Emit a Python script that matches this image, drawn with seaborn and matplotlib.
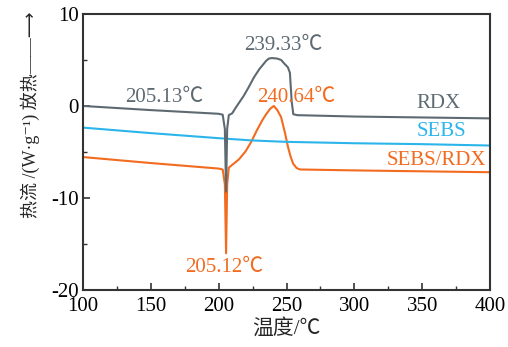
import numpy as np
import pandas as pd
import matplotlib
matplotlib.use("Agg")
import matplotlib.pyplot as plt
import seaborn as sns

# ---- data ----
rdx_t = [100, 150, 200, 203, 204.6, 205.5, 206.3, 207.5, 210, 213, 218.5, 222, 226, 230,
         235, 237, 239.33, 243, 246, 249, 251, 252.5, 253.8, 255, 258, 300, 350, 400]
rdx_y = [0.0, -0.45, -0.85, -0.95, -2.5, -9.3, -2.5, -1.0, -0.8, -0.1, 1.1, 2.0, 3.1, 4.0,
         4.9, 5.15, 5.2, 5.15, 5.0, 4.5, 4.2, 3.6, 0.5, -0.9, -1.0, -1.15, -1.25, -1.35]

sebs_t = [100, 150, 200, 225, 250, 300, 350, 400]
sebs_y = [-2.35, -2.95, -3.5, -3.75, -3.9, -4.05, -4.15, -4.3]

mix_t = [100, 150, 200, 203, 204.6, 205.5, 206.3, 207.5, 210, 215, 220, 224, 228, 232, 235,
         238, 240.64, 243, 246, 249, 251, 253, 255, 257.5, 260, 300, 350, 400]
mix_y = [-5.55, -6.2, -6.8, -6.9, -8.5, -16.0, -8.5, -6.7, -6.4, -5.8, -4.9, -3.9, -2.7, -1.6,
         -0.9, -0.3, 0.0, -0.4, -1.2, -3.0, -4.4, -5.5, -6.3, -6.75, -6.9, -7.0, -7.1, -7.2]

series = ["SEBS/RDX", "SEBS", "RDX"]
colors = {"RDX": "#5e6a72", "SEBS": "#2cb5ea", "SEBS/RDX": "#f26b1f"}

x_ticks = [100, 150, 200, 250, 300, 350, 400]
y_ticks = [-20, -10, 0, 10]

annotations = [
    ("205.13℃", 160, 0.9, "RDX"),
    ("239.33℃", 248, 6.6, "RDX"),
    ("240.64℃", 257, 0.9, "SEBS/RDX"),
    ("205.12℃", 204, -17.6, "SEBS/RDX"),
    ("RDX", 362, 0.3, "RDX"),
    ("SEBS", 364, -2.8, "SEBS"),
    ("SEBS/RDX", 360, -5.9, "SEBS/RDX"),
]

df = pd.concat([
    pd.DataFrame({"T": mix_t, "Q": mix_y, "s": "SEBS/RDX"}),
    pd.DataFrame({"T": sebs_t, "Q": sebs_y, "s": "SEBS"}),
    pd.DataFrame({"T": rdx_t, "Q": rdx_y, "s": "RDX"}),
], ignore_index=True)

sns.set_style("ticks")
plt.rcParams["font.family"] = ["Liberation Serif", "Noto Sans CJK SC", "DejaVu Sans"]
plt.rcParams["axes.unicode_minus"] = False

fig = plt.figure(figsize=(5.08, 3.47), dpi=100)
ax = fig.add_axes([0.163, 0.164, 0.802, 0.796])

sns.lineplot(data=df, x="T", y="Q", hue="s", hue_order=series, palette=colors,
             estimator=None, sort=False, linewidth=1.5, legend=False, ax=ax)

for txt, x, y, s in annotations:
    ax.text(x, y, txt, color=colors[s], fontsize=15, ha="center", va="center")

ax.set_xlim(100, 400)
ax.set_ylim(-20, 10)
ax.set_xticks(x_ticks)
ax.set_yticks(y_ticks)
ax.set_xticks(np.arange(125, 400, 50), minor=True)
ax.set_yticks([-15, -5, 5], minor=True)
ax.tick_params(which="major", direction="in", length=5, width=1.2, labelsize=15,
               colors="#333333", labelcolor="black")
ax.tick_params(axis="x", which="major", pad=5)
ax.tick_params(axis="y", which="major", pad=3)
ax.tick_params(which="minor", direction="in", length=3, width=1.0, colors="#333333")
for sp in ax.spines.values():
    sp.set_visible(True)
    sp.set_linewidth(1.5)
    sp.set_color("#333333")

ax.set_xlabel("温度/℃", fontsize=15, labelpad=2)
ax.set_ylabel("热流 /(W·g⁻¹) 放热——⟶", fontsize=13)
ax.yaxis.set_label_coords(-0.105, 0.635)

fig.savefig("out.png", dpi=100)
